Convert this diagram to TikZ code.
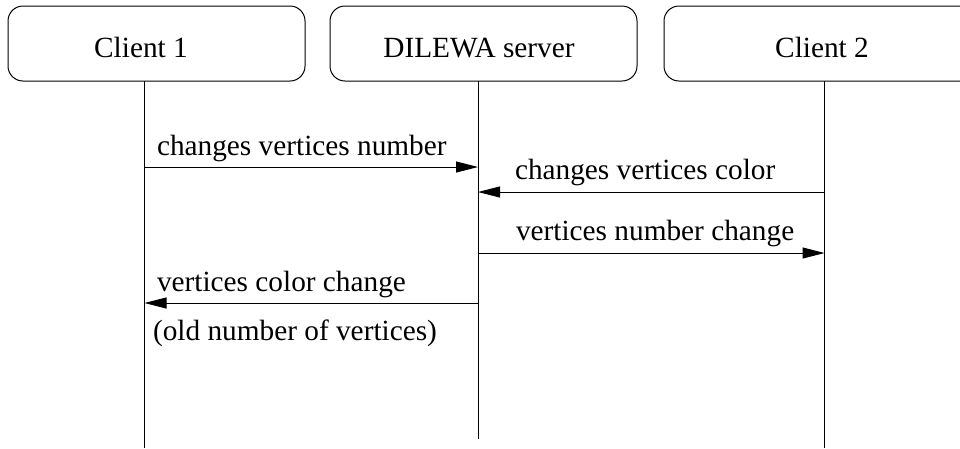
\documentclass[tikz,border=0pt]{standalone}
\usepackage{fontspec}
\setmainfont{Liberation Serif}
\usetikzlibrary{arrows.meta}
\begin{document}
\begin{tikzpicture}[x=1pt,y=-1pt,
  every node/.style={font=\fontsize{29.3}{34}\selectfont, inner sep=0pt, outer sep=0pt},
  actor/.style={draw, line width=1pt, rounded corners=15pt},
  life/.style={line width=1pt},
  msg/.style={line width=1pt, -{Triangle[length=22pt,width=11pt]}},
  lbl/.style={anchor=base west}]
\useasboundingbox (0,0) rectangle (960,448);
% actor boxes
\draw[actor] (8,6) rectangle (305,81);
\draw[actor] (330,6) rectangle (637,81);
\draw[actor] (664,6) rectangle (985,81);
\node[anchor=base] (c1) at (141,57) {Client 1};
\node[anchor=base] (srv) at (479,57) {DILEWA server};
\node[anchor=base] (c2) at (822,57) {Client 2};
% lifelines
\coordinate (c1top) at (144.5,81);
\coordinate (c1bot) at (144.5,448);
\coordinate (stop) at (478,81);
\coordinate (sbot) at (478,439);
\coordinate (c2top) at (824.5,81);
\coordinate (c2bot) at (824.5,448);
\draw[life] (c1top) -- (c1bot);
\draw[life] (stop) -- (sbot);
\draw[life] (c2top) -- (c2bot);
% message points
\coordinate (m1a) at (144.5,167); \coordinate (m1b) at (478,167);
\coordinate (m2a) at (824.5,192); \coordinate (m2b) at (478,192);
\coordinate (m3a) at (478,253); \coordinate (m3b) at (824.5,253);
\coordinate (m4a) at (478,303); \coordinate (m4b) at (144.5,303);
\draw[msg] (m1a) -- (m1b);
\draw[msg] (m2a) -- (m2b);
\draw[msg] (m3a) -- (m3b);
\draw[msg] (m4a) -- (m4b);
% labels
\node[lbl] (l1) at (157,155) {changes vertices number};
\node[lbl] (l2) at (515,179) {changes vertices color};
\node[lbl] (l3) at (516,240) {vertices number change};
\node[lbl] (l4) at (157,291) {vertices color change};
\node[lbl] (l5) at (153,340) {(old number of vertices)};
\end{tikzpicture}
\end{document}
